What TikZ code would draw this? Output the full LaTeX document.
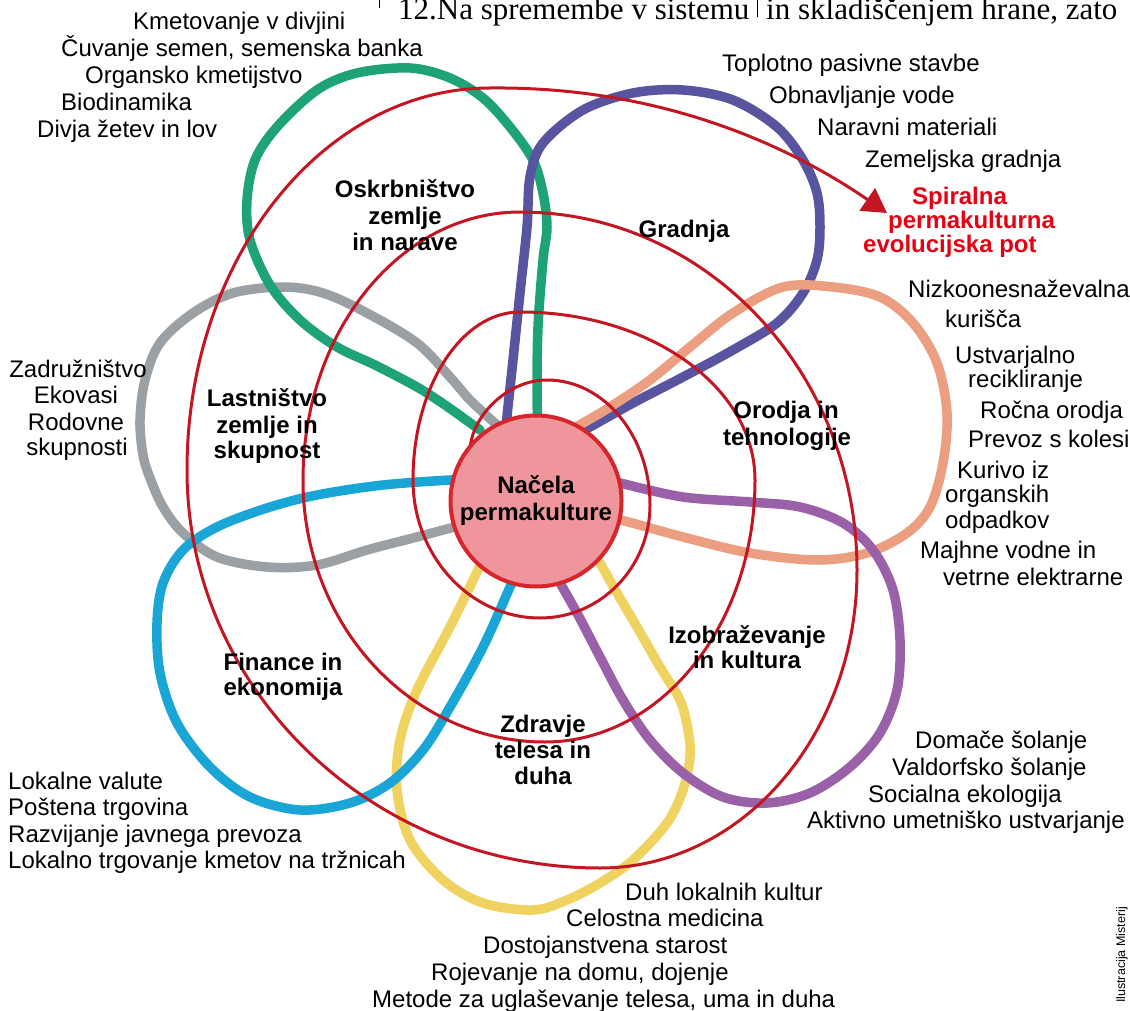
\documentclass[tikz,border=0pt]{standalone}
\usepackage{fontspec}
\setmainfont{Liberation Sans}
\newfontfamily\hdrfont{Liberation Serif}
\usetikzlibrary{arrows.meta}
\definecolor{pgreen}{RGB}{30,163,120}
\definecolor{pindigo}{RGB}{88,84,160}
\definecolor{psalmon}{RGB}{236,158,128}
\definecolor{ppurple}{RGB}{154,96,168}
\definecolor{pyellow}{RGB}{240,210,96}
\definecolor{pblue}{RGB}{26,165,215}
\definecolor{pgray}{RGB}{155,160,165}
\definecolor{spred}{RGB}{196,22,34}
\definecolor{txtred}{RGB}{230,0,18}
\definecolor{corefill}{RGB}{238,150,156}
\definecolor{coreline}{RGB}{214,38,44}
\tikzset{
  petal/.style={line width=9.5pt, line cap=round, line join=round},
  spiralline/.style={draw=spred, line width=3pt},
  txt/.style={inner sep=0pt, font=\fontsize{24}{27}\selectfont},
  tw/.style={txt, anchor=base west},
  tc/.style={txt, anchor=base},
  bc/.style={inner sep=0pt, font=\bfseries\fontsize{24}{27}\selectfont, anchor=base},
  rw/.style={inner sep=0pt, font=\bfseries\fontsize{24}{27}\selectfont, anchor=base west, text=txtred},
  hdr/.style={anchor=base west, inner sep=0pt, font=\hdrfont\fontsize{31}{36}\selectfont},
}
\begin{document}
\begin{tikzpicture}[x=1pt,y=-1pt]
\clip (0,0) rectangle (1130,1011);
\fill[white] (0,0) rectangle (1130,1011);

% header strip (cut off page text)
\node[hdr] (hdrA) at (398,20) {12.Na spremembe v sistemu};
\node[hdr] (hdrB) at (766,20) {in skladiščenjem hrane, zato};
\draw[line width=1pt] (757,0) -- (757,17);
\draw[line width=1pt] (379,0) -- (379,8);

% petals
\draw[petal, pgray] plot[smooth, tension=0.55] coordinates {(497,425) (470,400) (450,377) (417,343) (367,313) (323,293) (283,287) (233,293) (193,313) (160,343) (145,380) (140,420) (143,455) (150,478) (163,507) (183,533) (217,557) (267,567) (317,565) (367,550) (417,537) (455,527) (470,525)};
\draw[petal, pgreen] plot[smooth, tension=0.55] coordinates {(480,430) (445,405) (417,387) (375,365) (337,347) (300,320) (270,285) (250,240) (247,200) (255,160) (277,127) (317,90) (357,73) (410,68) (450,78) (483,98) (510,127) (533,160) (543,193) (547,227) (543,260) (538,327) (537,393) (538,430)};
\draw[petal, pindigo] plot[smooth, tension=0.55] coordinates {(507,430) (507,417) (513,360) (520,293) (527,227) (530,177) (543,143) (583,110) (633,93) (683,90) (733,100) (777,127) (803,160) (817,193) (820,227) (817,260) (803,293) (777,323) (733,350) (683,377) (633,403) (590,427) (580,432)};
\draw[petal, psalmon] plot[smooth, tension=0.55] coordinates {(600,520) (620,520) (683,537) (750,553) (817,560) (867,553) (907,533) (930,507) (943,463) (947,413) (937,363) (913,323) (880,297) (833,287) (783,287) (733,313) (690,347) (650,380) (610,407) (583,423) (570,430)};
\draw[petal, pyellow] plot[smooth, tension=0.55] coordinates {(480,565) (477,572) (450,627) (417,690) (400,740) (397,790) (410,840) (443,880) (483,903) (533,910) (567,900) (600,883) (633,860) (667,823) (683,790) (690,757) (688,730) (680,700) (660,667) (637,627) (617,593) (600,563) (595,555)};
\draw[petal, ppurple] plot[smooth, tension=0.55] coordinates {(610,480) (620,483) (683,497) (750,502) (800,507) (843,523) (873,550) (893,590) (900,640) (897,690) (880,733) (850,767) (810,793) (767,803) (723,797) (683,773) (650,740) (623,700) (600,657) (577,613) (560,583) (555,575)};
\draw[petal, pblue] plot[smooth, tension=0.55] coordinates {(460,480) (450,480) (383,485) (317,495) (267,508) (217,527) (183,550) (163,583) (157,623) (160,673) (177,723) (210,767) (250,797) (300,810) (350,803) (390,783) (423,750) (450,707) (483,647) (510,587) (515,575)};

% spiral
\draw[spiralline, -{Triangle[length=24pt,width=27pt]}] (470,455) .. controls (468,420) and (505,380) .. (547,380)
 .. controls (604,380) and (650,436) .. (650,505)
 .. controls (650,567) and (601,618) .. (540,618)
 .. controls (470,618) and (413,556) .. (413,480)
 .. controls (413,387) and (461,312) .. (520,312)
 .. controls (650,312) and (755,387) .. (755,480)
 .. controls (755,625) and (661,742) .. (545,742)
 .. controls (411,742) and (303,625) .. (303,480)
 .. controls (303,332) and (400,212) .. (520,212)
 .. controls (706,212) and (857,372) .. (857,570)
 .. controls (857,735) and (742,868) .. (600,868)
 .. controls (372,868) and (187,690) .. (187,470)
 .. controls (187,259) and (323,88) .. (490,88)
 .. controls (680,86) and (810,160) .. (887,213);

% centre
\node[circle, draw=coreline, fill=corefill, line width=4pt, minimum size=171pt, inner sep=0pt, align=center, font=\bfseries\fontsize{24}{27}\selectfont] (core) at (536,501) {Načela\\permakulture};

% bold petal labels
\node[bc] (l1a) at (405,198) {Oskrbništvo};
\node[bc] (l1b) at (405,225) {zemlje};
\node[bc] (l1c) at (405,251) {in narave};
\node[bc] (l2a) at (684,237) {Gradnja};
\node[bc] (l3a) at (786,418) {Orodja in};
\node[bc] (l3b) at (787,445) {tehnologije};
\node[bc] (l4a) at (747,643) {Izobraževanje};
\node[bc] (l4b) at (747,668) {in kultura};
\node[bc] (l5a) at (543,732) {Zdravje};
\node[bc] (l5b) at (543,758) {telesa in};
\node[bc] (l5c) at (543,784) {duha};
\node[bc] (l6a) at (283,670) {Finance in};
\node[bc] (l6b) at (283,695) {ekonomija};
\node[bc] (l7a) at (267,406) {Lastništvo};
\node[bc] (l7b) at (267,433) {zemlje in};
\node[bc] (l7c) at (267,458) {skupnost};

% red label
\node[rw] (sp1) at (912,205) {Spiralna};
\node[rw] (sp2) at (888,229) {permakulturna};
\node[rw] (sp3) at (863,253) {evolucijska pot};

% top-left list
\node[tw] (a1) at (133,30) {Kmetovanje v divjini};
\node[tw] (a2) at (61,57) {Čuvanje semen, semenska banka};
\node[tw] (a3) at (85,84) {Organsko kmetijstvo};
\node[tw] (a4) at (61,111) {Biodinamika};
\node[tw] (a5) at (37,138) {Divja žetev in lov};

% top-right list
\node[tw] (b1) at (722,72) {Toplotno pasivne stavbe};
\node[tw] (b2) at (769,104) {Obnavljanje vode};
\node[tw] (b3) at (817,136) {Naravni materiali};
\node[tw] (b4) at (865,168) {Zemeljska gradnja};

% right list
\node[tw] (c1) at (908,297) {Nizkoonesnaževalna};
\node[tw] (c2) at (945,327) {kurišča};
\node[tw] (c3) at (955,363) {Ustvarjalno};
\node[tw] (c4) at (968,387) {recikliranje};
\node[tw] (c5) at (980,418) {Ročna orodja};
\node[tw] (c6) at (968,447) {Prevoz s kolesi};
\node[tw] (c7) at (957,478) {Kurivo iz};
\node[tw] (c8) at (945,502) {organskih};
\node[tw] (c9) at (945,528) {odpadkov};
\node[tw] (c10) at (920,558) {Majhne vodne in};
\node[tw] (c11) at (943,585) {vetrne elektrarne};

% left list
\node[tc] (d1) at (78,377) {Zadružništvo};
\node[tc] (d2) at (76,403) {Ekovasi};
\node[tc] (d3) at (76,430) {Rodovne};
\node[tc] (d4) at (77,455) {skupnosti};

% bottom-left list
\node[tw] (e1) at (8,789) {Lokalne valute};
\node[tw] (e2) at (8,815) {Poštena trgovina};
\node[tw] (e3) at (8,842) {Razvijanje javnega prevoza};
\node[tw] (e4) at (8,868) {Lokalno trgovanje kmetov na tržnicah};

% bottom-right list
\node[tw] (f1) at (915,748) {Domače šolanje};
\node[tw] (f2) at (892,775) {Valdorfsko šolanje};
\node[tw] (f3) at (868,802) {Socialna ekologija};
\node[tw] (f4) at (807,828) {Aktivno umetniško ustvarjanje};

% bottom list
\node[tw] (g1) at (625,900) {Duh lokalnih kultur};
\node[tw] (g2) at (566,926) {Celostna medicina};
\node[tw] (g3) at (483,953) {Dostojanstvena starost};
\node[tw] (g4) at (431,980) {Rojevanje na domu, dojenje};
\node[tw] (g5) at (372,1007) {Metode za uglaševanje telesa, uma in duha};

% credit
\node[inner sep=0pt, rotate=90, font=\fontsize{12.5}{14}\selectfont] (credit) at (1122,955) {Ilustracija Misterij};
\end{tikzpicture}
\end{document}
